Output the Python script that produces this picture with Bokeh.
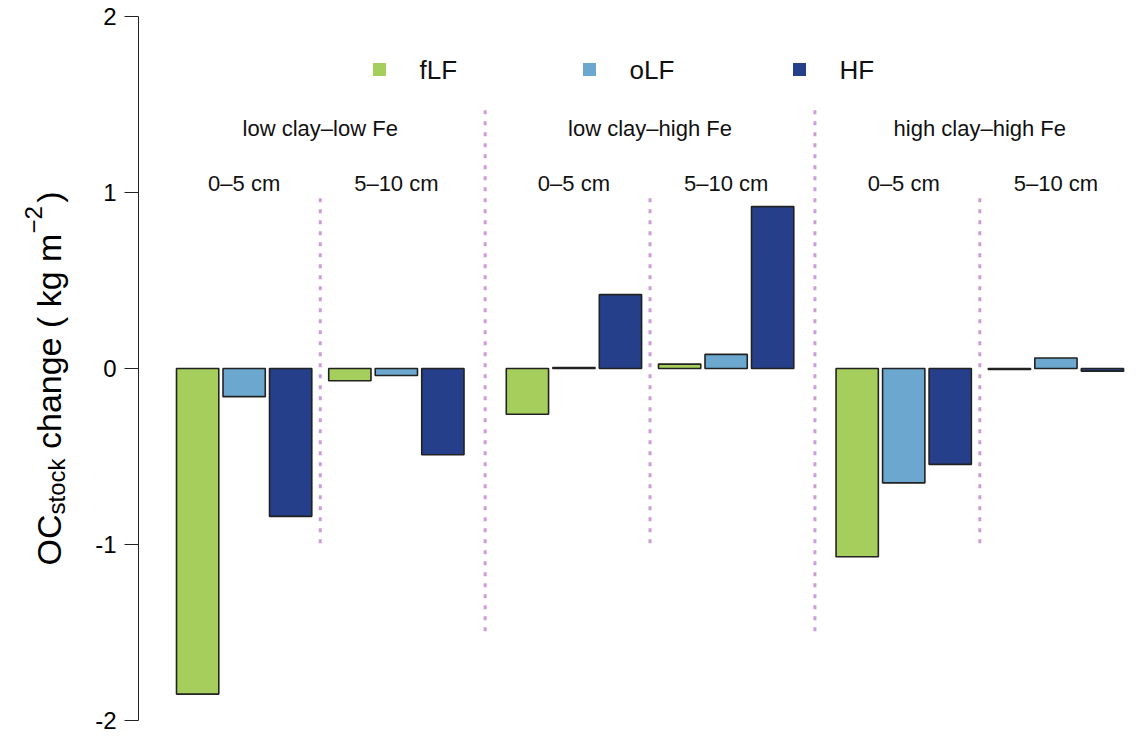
import math
from bokeh.plotting import figure
from bokeh.models import Range1d, ColumnDataSource
from bokeh.embed import file_html
from bokeh.resources import INLINE
from bokeh.core.properties import value

# ---- data -------------------------------------------------------------
groups = ["low clay–low Fe", "low clay–high Fe", "high clay–high Fe"]
depths = ["0–5 cm", "5–10 cm"]
fractions = ["fLF", "oLF", "HF"]
colors = ["#A6CE5C", "#6BA7CE", "#253F8A"]
# order: g1 0–5, g1 5–10, g2 0–5, g2 5–10, g3 0–5, g3 5–10
fLF = [-1.85, -0.07, -0.26, 0.025, -1.07, -0.006]
oLF = [-0.16, -0.04, 0.006, 0.08, -0.65, 0.06]
HF = [-0.84, -0.49, 0.42, 0.92, -0.545, -0.015]
y_ticks = [-2, -1, 0, 1, 2]
y_tick_labels = ["-2", "-1", "0", "1", "2"]

FONT = "Liberation Sans"
W, H = 1125, 736

# ---- screen <-> data helpers (only for ranges and text placement) -----
X0, PXU = 176.0, 42.28     # px of x=0, px per x unit
Y0, PYU = 368.0, 176.0     # px of y=0, px per y unit
def xd(px):
    return (px - X0) / PXU
def yd(px):
    return (Y0 - px) / PYU

# ---- layout (R barplot-like: width 1, space 0.1 in subgroup) ------------
BAR_W, BAR_SP, SUB_GAP, GRP_GAP = 1.0, 0.1, 0.4, 1.0
SUB_W = 3 * BAR_W + 2 * BAR_SP
sub_left = []
pos = 0.0
for g in range(len(groups)):
    for d in range(len(depths)):
        sub_left.append(pos)
        pos += SUB_W + (SUB_GAP if d == 0 else GRP_GAP)

xs, tops, fills, fr = [], [], [], []
series = [fLF, oLF, HF]
for s in range(len(sub_left)):
    for i in range(3):
        xs.append(sub_left[s] + i * (BAR_W + BAR_SP) + BAR_W / 2)
        tops.append(series[i][s])
        fills.append(colors[i])
        fr.append(fractions[i])
src = ColumnDataSource(dict(x=xs, top=tops, fill=fills, fraction=fr))

p = figure(width=W, height=H, output_backend="svg", toolbar_location=None,
           x_range=Range1d(xd(0), xd(W)), y_range=Range1d(yd(H), yd(0)),
           x_axis_location=None, y_axis_location=None,
           min_border=0)
p.outline_line_color = None
p.grid.visible = False
p.background_fill_color = "white"

# ---- y axis (R style: line only over tick range, outward ticks) --------
AX_X = xd(138)
TICK_LEN = 14 / PXU
p.segment(x0=[AX_X], x1=[AX_X], y0=[min(y_ticks)], y1=[max(y_ticks)],
          line_color="#222222", line_width=1)
p.segment(x0=[AX_X] * len(y_ticks), x1=[AX_X - TICK_LEN] * len(y_ticks),
          y0=y_ticks, y1=y_ticks, line_color="#222222", line_width=1)
p.text(x=[AX_X - TICK_LEN - 8 / PXU] * len(y_ticks), y=y_ticks, text=y_tick_labels,
       text_font=value(FONT), text_font_size="24px", text_align="right",
       text_baseline="middle", text_color="black")

# ---- bars ---------------------------------------------------------------
p.vbar(x="x", top="top", bottom=0, width=BAR_W, source=src,
       fill_color="fill", line_color="#222222", line_width=1.6)

# ---- dividers -----------------------------------------------------------
sub_div_x, grp_div_x = [], []
for s in range(len(sub_left)):
    if s % 2 == 0:
        sub_div_x.append(sub_left[s] + SUB_W + SUB_GAP / 2)
    elif s < len(sub_left) - 1:
        grp_div_x.append(sub_left[s] + SUB_W + GRP_GAP / 2)
p.segment(x0=sub_div_x, x1=sub_div_x, y0=[0.967] * len(sub_div_x), y1=[-1.0] * len(sub_div_x),
          line_color="#CE9CD8", line_width=3, line_dash="4 7")
p.segment(x0=grp_div_x, x1=grp_div_x, y0=[1.467] * len(grp_div_x), y1=[-1.5] * len(grp_div_x),
          line_color="#CE9CD8", line_width=3, line_dash="4 7")

# ---- group & depth labels -------------------------------------------------
grp_x = [(sub_left[2 * g] + sub_left[2 * g + 1] + SUB_W) / 2 for g in range(len(groups))]
p.text(x=grp_x, y=[yd(128)] * 3, text=groups, text_font=value(FONT), text_font_size="22px",
       text_align="center", text_baseline="middle", text_color="#111111")
dep_x = [sl + SUB_W / 2 for sl in sub_left]
dep_t = [depths[s % 2] for s in range(len(sub_left))]
p.text(x=dep_x, y=[yd(183)] * len(dep_x), text=dep_t, text_font=value(FONT), text_font_size="22px",
       text_align="center", text_baseline="middle", text_color="#111111")

# ---- legend ---------------------------------------------------------------
leg_x = [xd(379 + k * 210) for k in range(3)]
leg_y = yd(69)
p.scatter(x=leg_x, y=[leg_y] * 3, marker="square", size=13, fill_color=colors, line_color=None)
p.text(x=[lx + 40 / PXU for lx in leg_x], y=[leg_y] * 3, text=fractions, text_font=value(FONT),
       text_font_size="26px", text_align="left", text_baseline="middle", text_color="#111111")

# ---- y-axis title with subscript / superscript --------------------------
S, S2 = 34, 24
base_x = 48            # baseline (px) of the rotated title
SP = 0.278 * S         # width of a space (SVG drops leading spaces)
pieces = [             # text, font size, baseline shift (px, + = lower), advance (px)
    ("OC", S, 0, 1.5 * S),
    ("stock", S2, 8, 2.334 * S2 + SP),
    ("change ( kg m", S, 0, 6.336 * S),
    ("−2", S2, -15, 1.14 * S2 + 0.1 * S),
    (")", S, 0, 0.333 * S),
]
total = sum(pc[3] for pc in pieces)
cur = 378 + total / 2
for txt, size, dx, w in pieces:
    p.text(x=[xd(base_x + dx)], y=[yd(cur)], text=[txt], angle=math.pi / 2,
           text_font=value(FONT), text_font_size=f"{size}px", text_align="left",
           text_baseline="alphabetic", text_color="black")
    cur -= w

open("out.html", "w").write(file_html(p, INLINE))
